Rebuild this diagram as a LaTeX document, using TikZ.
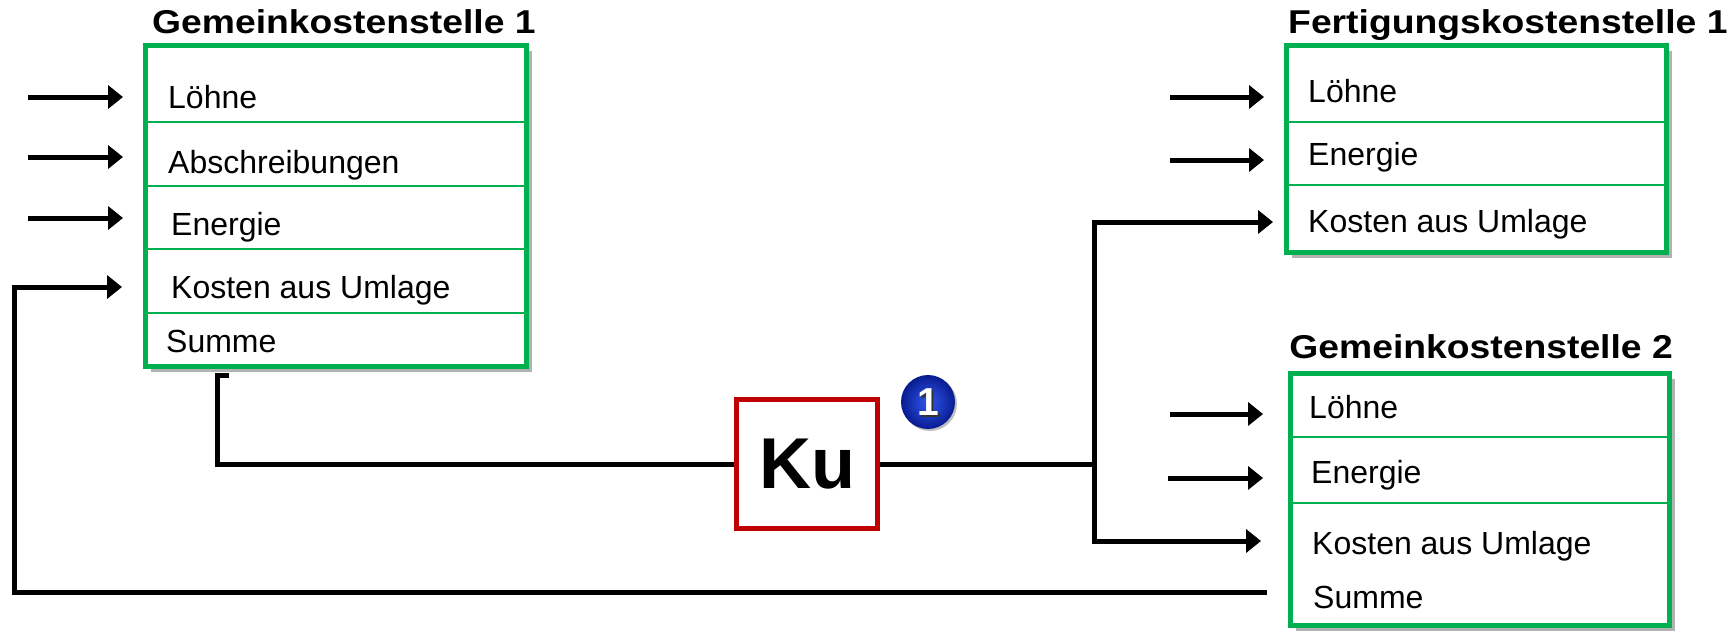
\documentclass[tikz,border=0pt]{standalone}
\usepackage{fontspec}
\setmainfont{Liberation Sans}
\newfontfamily\titlefont{Liberation Sans}[FakeStretch=1.13]
\usetikzlibrary{arrows.meta,shadows,calc}
\definecolor{kgreen}{HTML}{00B050}
\definecolor{kred}{HTML}{C00000}
\definecolor{kblue1}{HTML}{3358F0}
\definecolor{kblue2}{HTML}{081C90}
\begin{document}
\begin{tikzpicture}[x=1pt,y=-1pt,
  frame/.style={draw=kgreen,line width=5pt,fill=white,inner sep=0pt,anchor=north west,
    drop shadow={shadow xshift=5pt,shadow yshift=-5pt,opacity=0.3,fill=black}},
  sepline/.style={draw=kgreen,line width=2.2pt},
  rowtext/.style={anchor=base west,inner sep=0pt,font=\fontsize{32}{36}\selectfont},
  title/.style={inner sep=0pt,font=\titlefont\fontsize{33}{40}\selectfont\bfseries},
  conn/.style={line width=5pt,draw=black},
  arr/.style={conn,-{Triangle[length=15pt,width=23pt]}},
]
\useasboundingbox (0,0) rectangle (1731,630);

% ---------- Gemeinkostenstelle 1 ----------
\node[title,anchor=base west] (t1) at (152,33) {Gemeinkostenstelle 1};
\node[frame,minimum width=381pt,minimum height=321pt] (g1) at (143,43) {};
\draw[sepline] (145,122) -- (527,122);
\draw[sepline] (145,186) -- (527,186);
\draw[sepline] (145,249) -- (527,249);
\draw[sepline] (145,313) -- (527,313);
\node[rowtext] (g1a) at (168,108) {Löhne};
\node[rowtext] (g1b) at (168,173) {Abschreibungen};
\node[rowtext] (g1c) at (171,235) {Energie};
\node[rowtext] (g1d) at (171,298) {Kosten aus Umlage};
\node[rowtext] (g1e) at (166,352) {Summe};

% ---------- Fertigungskostenstelle 1 ----------
\node[title,anchor=base west] (t2) at (1288,33) {Fertigungskostenstelle 1};
\node[frame,minimum width=380pt,minimum height=207pt] (f1) at (1284,43) {};
\draw[sepline] (1286,122) -- (1667,122);
\draw[sepline] (1286,185) -- (1667,185);
\node[rowtext] (f1a) at (1308,102) {Löhne};
\node[rowtext] (f1b) at (1308,165) {Energie};
\node[rowtext] (f1c) at (1308,232) {Kosten aus Umlage};

% ---------- Gemeinkostenstelle 2 ----------
\node[title,anchor=base east] (t3) at (1673,358) {Gemeinkostenstelle 2};
\node[frame,minimum width=379pt,minimum height=252pt] (g2) at (1288,371) {};
\draw[sepline] (1290,437) -- (1670,437);
\draw[sepline] (1290,503) -- (1670,503);
\node[rowtext] (g2a) at (1309,418) {Löhne};
\node[rowtext] (g2b) at (1311,483) {Energie};
\node[rowtext] (g2c) at (1312,554) {Kosten aus Umlage};
\node[rowtext] (g2d) at (1313,608) {Summe};

% ---------- Ku box and badge ----------
\node[draw=kred,line width=5pt,fill=white,minimum width=141pt,minimum height=129pt,inner sep=0pt,
      font=\fontsize{72}{80}\selectfont\bfseries] (ku) at (807,464) {Ku};
\node[circle,minimum size=54pt,inner sep=0pt,inner color=kblue1,outer color=kblue2,
      drop shadow={shadow xshift=2pt,shadow yshift=-2pt,opacity=0.25,fill=black}] (badge) at (928,402) {};
\node[text=black!80,font=\fontsize{39}{40}\selectfont\bfseries,inner sep=0pt] (badgesh) at ($(badge.center)+(2,2)$) {1};
\node[text=white,font=\fontsize{39}{40}\selectfont\bfseries,inner sep=0pt] (badgetxt) at (badge.center) {1};

% ---------- connector coordinates ----------
\coordinate (ga1) at (28,97);   \coordinate (ga1e) at (123,97);
\coordinate (ga2) at (28,157);  \coordinate (ga2e) at (123,157);
\coordinate (ga3) at (28,218);  \coordinate (ga3e) at (123,218);
\coordinate (fa1) at (1170,97); \coordinate (fa1e) at (1264,97);
\coordinate (fa2) at (1170,160);\coordinate (fa2e) at (1264,160);
\coordinate (ha1) at (1170,414);\coordinate (ha1e) at (1263,414);
\coordinate (ha2) at (1168,478);\coordinate (ha2e) at (1263,478);
\coordinate (g1out) at (229,375);
\coordinate (jn) at (1094,464);
\coordinate (fkend) at (1273,222);
\coordinate (g2kend) at (1261,541);
\coordinate (sumstart) at (1267,592);
\coordinate (fbcorner) at (14,592);
\coordinate (fbend) at (122,287);

% ---------- input arrows ----------
\draw[arr] (ga1) -- (ga1e);
\draw[arr] (ga2) -- (ga2e);
\draw[arr] (ga3) -- (ga3e);
\draw[arr] (fa1) -- (fa1e);
\draw[arr] (fa2) -- (fa2e);
\draw[arr] (ha1) -- (ha1e);
\draw[arr] (ha2) -- (ha2e);

% ---------- allocation connectors ----------
\draw[conn] (g1out) -- (217,375) |- (ku.west);
\draw[conn] (ku.east) -- (jn);
\draw[arr] (jn) |- (fkend);
\draw[arr] (jn) |- (g2kend);
\draw[arr] (sumstart) -- (fbcorner) |- (fbend);
\end{tikzpicture}
\end{document}
